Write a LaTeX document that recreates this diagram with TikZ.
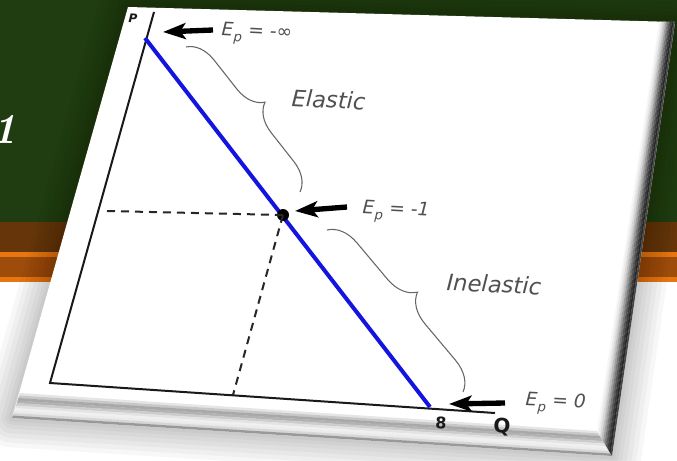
\documentclass[tikz,border=0pt]{standalone}
\usepackage{fontspec}
\newfontfamily\lbl{DejaVu Sans}
\usetikzlibrary{arrows.meta,decorations.pathreplacing,calc}
\definecolor{bggreen}{RGB}{31,61,16}
\definecolor{bgbrown}{RGB}{102,54,10}
\definecolor{bgorange}{RGB}{232,118,16}
\definecolor{bgrust}{RGB}{158,76,10}
\definecolor{demandblue}{RGB}{20,20,225}
\definecolor{labgray}{RGB}{80,80,80}
\newcommand\EpSym{E\kern0.5pt\raisebox{-0.32em}{\fontsize{10}{10}\selectfont p}}
\begin{document}
\begin{tikzpicture}[x=0.75pt,y=-0.75pt,
  axisline/.style={line width=1.5pt,black!90,line join=miter},
  demand/.style={line width=3pt,demandblue},
  dashline/.style={line width=1.5pt,black!85,dash pattern=on 6pt off 4.5pt},
  bigarrow/.style={line width=4pt,black,-{Stealth[length=17pt,width=12pt,inset=4pt]}},
  bracestyle/.style={decorate,line width=0.8pt,black!60},
  lab/.style={font=\lbl\itshape\fontsize{14}{14}\selectfont,text=labgray,inner sep=0pt,rotate=-3},
  biglab/.style={font=\lbl\itshape\fontsize{17}{17}\selectfont,text=labgray,inner sep=0pt,rotate=-3},
  axlab/.style={font=\lbl,text=black!90,inner sep=0pt,rotate=-3},
  dotnode/.style={circle,fill=black,inner sep=0pt,minimum size=9pt}]
\useasboundingbox (0,0) rectangle (677,460);
% background slide
\fill[bggreen] (0,0) rectangle (677,222);
\fill[bgbrown] (0,222) rectangle (677,252);
\fill[bgorange] (0,252) rectangle (677,257);
\fill[bgrust] (0,257) rectangle (677,277);
\fill[bgorange] (0,277) rectangle (677,282);
\fill[white] (0,282) rectangle (677,460);
% partial title digit
\node[font=\fontsize{32}{32}\selectfont\bfseries\itshape,text=white,anchor=base east,inner sep=0pt] (one) at (17,143) {1};
% card corners
\coordinate (TL) at (128,7);
\coordinate (TR) at (675,22);
\coordinate (BR) at (612,456);
\coordinate (BL) at (12,418);
\coordinate (ITR) at (659,22);
\coordinate (IBR) at (597,431);
\coordinate (IBL) at (20,393);
% drop shadow
\foreach \w in {44,37,30,23,16,10,5}{
  \draw[black,opacity=0.03,line width=\w pt,line join=round,shift={(7,11)}] (TL) -- (TR) -- (BR) -- (BL) -- cycle;
}
\fill[white] (TL) -- (TR) -- (BR) -- (BL) -- cycle;
% bottom bevel
\foreach \a/\b/\g in {0/0.11/10,0.1/0.21/22,0.2/0.31/34,0.3/0.41/30,0.4/0.51/20,0.5/0.61/11,0.6/0.71/6,0.7/0.81/8,0.8/0.91/16,0.9/1/40}{
  \fill[black!\g!white] ($(IBL)!\a!(BL)$) -- ($(IBR)!\a!(BR)$) -- ($(IBR)!\b!(BR)$) -- ($(IBL)!\b!(BL)$) -- cycle;
}
% right bevel
\foreach \a/\b/\g in {0/0.11/3,0.1/0.21/8,0.2/0.31/15,0.3/0.41/25,0.4/0.51/38,0.5/0.61/52,0.6/0.71/65,0.7/0.81/76,0.8/0.91/84,0.9/1/72}{
  \fill[black!\g!white] ($(ITR)!\a!(TR)$) -- ($(IBR)!\a!(BR)$) -- ($(IBR)!\b!(BR)$) -- ($(ITR)!\b!(TR)$) -- cycle;
}
% axes
\coordinate (O) at (50,383);
\coordinate (Ptop) at (154,12);
\coordinate (Qend) at (495,413);
\draw[axisline] (Ptop) -- (O) -- (Qend);
% demand curve
\coordinate (D1) at (145,38);
\coordinate (D2) at (430,407);
\draw[demand] (D1) -- (D2);
% unit elastic point with dashed guides
\node[dotnode] (M) at (283,215) {};
\coordinate (HL) at (107,211);
\coordinate (VB) at (233,395);
\draw[dashline] (HL) -- (M.center);
\draw[dashline] (M.center) -- (VB);
% braces
\coordinate (EB1) at (186,47);
\coordinate (EB2) at (300,192);
\draw[bracestyle,decoration={brace,amplitude=21pt}] (EB1) -- (EB2);
\coordinate (IB1) at (327,230);
\coordinate (IB2) at (463,392);
\draw[bracestyle,decoration={brace,amplitude=22pt}] (IB1) -- (IB2);
% arrows
\coordinate (A1t) at (213,30);
\coordinate (A1h) at (163,32);
\draw[bigarrow] (A1t) -- (A1h);
\coordinate (A2t) at (347,207);
\coordinate (A2h) at (295,211);
\draw[bigarrow] (A2t) -- (A2h);
\coordinate (A3t) at (505,403);
\coordinate (A3h) at (449,404);
\draw[bigarrow] (A3t) -- (A3h);
% labels
\node[lab,anchor=base west] (L1) at (221,35) {\EpSym{} = -∞};
\node[lab,anchor=base west] (L2) at (362,213) {\EpSym{} = -1};
\node[lab,anchor=base west] (L3) at (525,405) {\EpSym{} = 0};
\node[biglab,anchor=base west] (El) at (291,106) {Elastic};
\node[biglab,anchor=base west] (In) at (446,290) {Inelastic};
\node[axlab,font=\lbl\bfseries\itshape\fontsize{9}{9}\selectfont] (Plab) at (133,18) {P};
\node[axlab,font=\lbl\bfseries\fontsize{12}{12}\selectfont] (eight) at (441,423) {8};
\node[axlab,font=\lbl\bfseries\fontsize{15}{15}\selectfont] (Qlab) at (502,427) {Q};
\end{tikzpicture}
\end{document}
